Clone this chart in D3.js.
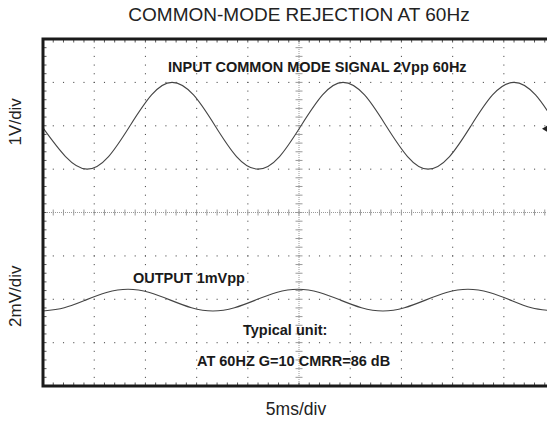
<!DOCTYPE html>
<html>
<head>
<meta charset="utf-8">
<script src="https://cdn.jsdelivr.net/npm/d3@7"></script>
<style>
  body { margin: 0; background: #fff; }
  svg { display: block; font-family: "Liberation Sans", Arial, sans-serif; }
</style>
</head>
<body>
<svg id="chart" width="547" height="423"></svg>
<script>
// scope trace, 5ms/div horizontally, 8 divisions vertically
const inputTimes = [0, 2.2, 4.3, 6.4, 8.5, 10.6, 12.6, 14.7, 16.8, 18.9, 21.0, 23.1, 25.2,
    27.3, 29.3, 31.4, 33.5, 35.6, 37.6, 39.7, 41.8, 43.9, 46.0, 48.1, 50.2];
const inputVolts = [-0.05, -0.71, -1, -0.71, 0, 0.71, 1, 0.71, 0, -0.71, -1, -0.71, 0,
    0.71, 1, 0.71, 0, -0.71, -1, -0.71, 0, 0.71, 1, 0.71, 0];

const outputTimes = [0, 2.08, 4.15, 6.2, 8.3, 10.4, 12.45, 14.5, 16.6, 18.7, 20.75, 22.8, 24.9,
    27.0, 29.05, 31.1, 33.2, 35.3, 37.35, 39.4, 41.5, 43.6, 45.65, 47.7, 49.8];
const outputMilliVolts = [-0.54, -0.39, -0.04, 0.31, 0.46, 0.31, -0.04, -0.39, -0.54, -0.39, -0.04, 0.31, 0.46,
    0.31, -0.04, -0.39, -0.54, -0.39, -0.04, 0.31, 0.46, 0.31, -0.04, -0.39, -0.54];

const xMajor = [0, 5, 10, 15, 20, 25, 30, 35, 40, 45, 50];   // ms
const yMajor = [-4, -3, -2, -1, 0, 1, 2, 3, 4];             // divisions

const svg = d3.select("#chart");
const x = d3.scaleLinear().domain([0, 50]).range([43, 555]);
const y = d3.scaleLinear().domain([-4, 4]).range([386, 39]);

const INPUT_OFFSET = 2, INPUT_SCALE = 1;      // 1V/div
const OUTPUT_OFFSET = -2, OUTPUT_SCALE = 2;   // 2mV/div

const xMinor = d3.range(0, 50.01, 1);
const yMinor = d3.range(-4, 4.01, 0.2);

// dotted graticule
const grid = svg.append("g").attr("fill", "#555");
yMajor.filter(d => d !== 0 && Math.abs(d) !== 4).forEach(k => {
    grid.selectAll(null).data(xMinor).enter().append("rect")
        .attr("x", d => x(d) - 0.5).attr("y", y(k) - 0.5)
        .attr("width", 1.1).attr("height", 1.1);
});
xMajor.filter(d => d !== 25 && d !== 0 && d !== 50).forEach(t => {
    grid.selectAll(null).data(yMinor).enter().append("rect")
        .attr("x", x(t) - 0.5).attr("y", d => y(d) - 0.5)
        .attr("width", 1.1).attr("height", 1.1);
});

// centre axes with minor ticks
const centre = svg.append("g").attr("stroke", "#9a9a9a").attr("stroke-width", 1);
centre.append("line")
    .attr("x1", x(0)).attr("x2", x(50)).attr("y1", y(0)).attr("y2", y(0))
    .attr("stroke-dasharray", "1,1");
centre.append("line")
    .attr("x1", x(25)).attr("x2", x(25)).attr("y1", y(4)).attr("y2", y(-4))
    .attr("stroke-dasharray", "1,1");
centre.selectAll(null).data(xMinor).enter().append("line")
    .attr("x1", d => x(d)).attr("x2", d => x(d))
    .attr("y1", y(0) - 3).attr("y2", y(0) + 3);
centre.selectAll(null).data(yMinor).enter().append("line")
    .attr("x1", x(25) - 3.5).attr("x2", x(25) + 3.5)
    .attr("y1", d => y(d)).attr("y2", d => y(d));

// border ticks
const ticks = svg.append("g").attr("stroke", "#555").attr("stroke-width", 1);
ticks.selectAll(null).data(yMinor).enter().append("line")
    .attr("x1", x(0)).attr("x2", x(0) + 3.5)
    .attr("y1", d => y(d)).attr("y2", d => y(d));
ticks.selectAll(null).data(xMinor).enter().append("line")
    .attr("x1", d => x(d)).attr("x2", d => x(d))
    .attr("y1", y(4)).attr("y2", y(4) + 3.5);
ticks.selectAll(null).data(xMinor).enter().append("line")
    .attr("x1", d => x(d)).attr("x2", d => x(d))
    .attr("y1", y(-4)).attr("y2", y(-4) - 3.5);

// traces
const inputLine = d3.line()
    .x((d, i) => x(inputTimes[i]))
    .y(d => y(INPUT_OFFSET + d / INPUT_SCALE))
    .curve(d3.curveNatural);
const outputLine = d3.line()
    .x((d, i) => x(outputTimes[i]))
    .y(d => y(OUTPUT_OFFSET + d / OUTPUT_SCALE))
    .curve(d3.curveNatural);

svg.append("path").attr("d", inputLine(inputVolts))
    .attr("fill", "none").attr("stroke", "#444").attr("stroke-width", 1.1);
svg.append("path").attr("d", outputLine(outputMilliVolts))
    .attr("fill", "none").attr("stroke", "#444").attr("stroke-width", 1.1);

// frame
svg.append("rect")
    .attr("x", x(0)).attr("y", y(4))
    .attr("width", x(50) - x(0)).attr("height", y(-4) - y(4))
    .attr("fill", "none").attr("stroke", "#1a1a1a").attr("stroke-width", 3);

// ground marker at right edge
svg.append("path")
    .attr("d", `M${542},${y(INPUT_OFFSET) + 3} l5,-3 l0,6 z`)
    .attr("fill", "#222");

// labels
svg.append("text").attr("x", 299).attr("y", 21)
    .attr("text-anchor", "middle").attr("font-size", 19).attr("fill", "#222")
    .text("COMMON-MODE REJECTION AT 60Hz");
svg.append("text").attr("x", 296).attr("y", 415)
    .attr("text-anchor", "middle").attr("font-size", 17.5).attr("fill", "#222")
    .text("5ms/div");
svg.append("text").attr("transform", `translate(21,${y(2) - 4}) rotate(-90)`)
    .attr("text-anchor", "middle").attr("font-size", 17).attr("fill", "#222")
    .text("1V/div");
svg.append("text").attr("transform", `translate(21,${y(-2) - 3}) rotate(-90)`)
    .attr("text-anchor", "middle").attr("font-size", 17).attr("fill", "#222")
    .text("2mV/div");

const notes = svg.append("g").attr("font-weight", "bold").attr("font-size", 14.5).attr("fill", "#1a1a1a");
notes.append("text").attr("x", 168).attr("y", 72).text("INPUT COMMON MODE SIGNAL 2Vpp 60Hz");
notes.append("text").attr("x", 133).attr("y", 283).text("OUTPUT 1mVpp");
notes.append("text").attr("x", 243).attr("y", 335).text("Typical unit:");
notes.append("text").attr("x", 197).attr("y", 366).text("AT 60HZ G=10 CMRR=86 dB");
</script>
</body>
</html>
